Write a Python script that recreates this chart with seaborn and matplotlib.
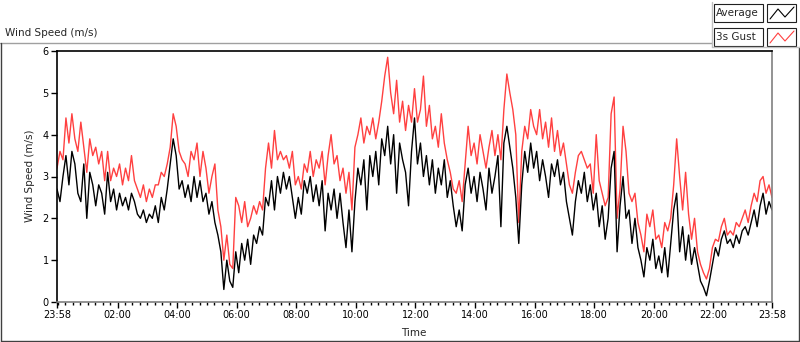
import numpy as np
import pandas as pd
import matplotlib
matplotlib.use('Agg')
import matplotlib.pyplot as plt
import matplotlib.dates as mdates
from matplotlib.lines import Line2D
from matplotlib.patches import Rectangle
import seaborn as sns

# ---- data (one sample every 6 minutes) ----
start_time = '2024-05-01 23:58'
step_minutes = 6
tick_labels = ['23:58', '02:00', '04:00', '06:00', '08:00', '10:00', '12:00',
               '14:00', '16:00', '18:00', '20:00', '22:00', '23:58']

avg = [2.7, 2.4, 3.0, 3.5, 2.8, 3.6, 3.3, 2.6, 2.4, 3.3,
       2.0, 3.1, 2.8, 2.3, 2.8, 2.6, 2.1, 3.1, 2.4, 2.7,
       2.2, 2.6, 2.3, 2.5, 2.2, 2.6, 2.4, 2.1, 2.0, 2.2,
       1.9, 2.1, 2.0, 2.3, 1.9, 2.5, 2.2, 2.7, 3.3, 3.9,
       3.5, 2.7, 2.9, 2.5, 2.8, 2.4, 3.0, 2.5, 2.9, 2.4,
       2.6, 2.1, 2.4, 1.9, 1.6, 1.2, 0.3, 1.0, 0.5, 0.35,
       1.2, 0.7, 1.4, 1.0, 1.5, 0.9, 1.6, 1.4, 1.8, 1.6,
       2.5, 2.3, 2.9, 2.2, 3.0, 2.6, 3.1, 2.7, 3.0, 2.5,
       2.0, 2.5, 2.1, 2.9, 2.6, 3.0, 2.4, 2.8, 2.3, 2.9,
       1.7, 2.6, 2.2, 2.7, 2.0, 2.6, 1.9, 1.3, 2.2, 1.2,
       2.4, 3.2, 2.8, 3.4, 2.2, 3.5, 3.0, 3.6, 2.8, 3.9,
       3.5, 4.2, 3.3, 4.0, 2.6, 3.8, 3.4, 3.1, 2.3, 3.6,
       4.4, 3.3, 3.8, 3.0, 3.5, 2.8, 3.4, 2.6, 3.2, 2.8,
       3.4, 2.5, 2.9, 2.3, 1.8, 2.2, 1.7, 2.8, 3.2, 2.6,
       3.0, 2.4, 3.1, 2.7, 2.2, 3.2, 2.6, 3.0, 3.5, 1.8,
       3.8, 4.2, 3.7, 3.2, 2.5, 1.4, 2.8, 3.6, 3.1, 3.8,
       3.2, 3.6, 2.9, 3.4, 3.0, 2.5, 3.3, 3.0, 3.4, 2.8,
       3.1, 2.4, 2.0, 1.6, 2.4, 2.9, 2.6, 3.1, 2.4, 2.8,
       2.2, 2.6, 1.8, 2.3, 1.5, 2.0, 3.2, 3.6, 1.2, 2.3,
       3.0, 2.0, 2.2, 1.4, 2.0, 1.3, 1.0, 0.6, 1.3, 1.0,
       1.5, 0.8, 1.1, 0.7, 1.3, 0.6, 1.4, 2.2, 2.6, 1.2,
       1.8, 1.0, 1.6, 0.9, 1.3, 0.9, 0.5, 0.35, 0.15, 0.5,
       0.9, 1.3, 1.1, 1.5, 1.7, 1.4, 1.5, 1.3, 1.6, 1.4,
       1.7, 1.8, 1.6, 1.9, 2.2, 1.8, 2.3, 2.6, 2.1, 2.4,
       2.2]

gust = [3.2, 3.6, 3.4, 4.4, 3.8, 4.5, 3.9, 3.6, 4.3, 3.7,
        3.1, 3.9, 3.5, 3.7, 3.3, 3.6, 2.9, 3.6, 2.9, 3.2,
        3.0, 3.3, 2.8, 3.2, 2.9, 3.5, 2.9, 2.7, 2.5, 2.8,
        2.4, 2.7, 2.5, 2.8, 2.8, 3.1, 3.0, 3.3, 3.7, 4.5,
        4.2, 3.6, 3.4, 3.3, 3.0, 3.6, 3.4, 3.8, 3.0, 3.6,
        3.2, 2.6, 3.0, 3.3, 2.2, 1.8, 1.0, 1.6, 0.9, 0.8,
        2.5, 2.3, 1.9, 2.4, 1.8, 2.0, 2.3, 2.1, 2.4, 2.2,
        3.2, 3.8, 3.2, 4.1, 3.4, 3.6, 3.4, 3.5, 3.2, 3.6,
        2.8, 3.0, 2.7, 3.3, 3.1, 3.6, 3.0, 3.4, 3.2, 3.6,
        2.8, 3.5, 4.0, 3.3, 3.5, 2.9, 3.2, 2.6, 3.1, 2.2,
        3.7, 4.0, 4.4, 3.8, 4.2, 4.0, 4.4, 3.9, 4.3, 4.8,
        5.4, 5.85, 5.0, 4.5, 5.3, 4.3, 4.8, 4.1, 4.7, 4.3,
        5.1, 4.3, 4.6, 5.4, 4.2, 4.7, 3.9, 4.2, 3.7, 4.5,
        3.8, 3.4, 3.1, 2.7, 2.6, 2.9, 2.4, 3.3, 4.2, 3.5,
        3.8, 3.3, 4.0, 3.6, 3.2, 3.7, 4.1, 3.5, 4.0, 3.4,
        4.6, 5.45, 5.0, 4.6, 4.0, 1.9, 3.6, 4.2, 3.9, 4.6,
        4.2, 4.0, 4.6, 3.9, 4.3, 3.7, 4.4, 3.6, 4.1, 3.5,
        3.8, 3.3, 2.8, 2.6, 3.1, 3.5, 3.6, 3.4, 3.2, 3.3,
        2.6, 4.0, 2.9, 2.6, 2.3, 2.5, 4.5, 4.9, 2.0, 2.7,
        4.2, 3.6, 2.6, 2.4, 2.6, 1.9, 1.6, 1.2, 2.1, 1.8,
        2.2, 1.5, 1.6, 1.3, 1.9, 1.7, 2.0, 2.8, 3.9, 3.0,
        2.2, 3.1, 2.1, 1.5, 2.0, 1.2, 0.9, 0.7, 0.55, 0.8,
        1.3, 1.5, 1.45, 1.8, 2.0, 1.6, 1.7, 1.6, 1.9, 1.8,
        2.0, 2.2, 1.9, 2.3, 2.6, 2.4, 2.9, 3.0, 2.6, 2.8,
        2.5]

# ---- style ----
sns.set_theme(style='white')
plt.rcParams['font.family'] = ['DejaVu Sans']

W, H = 800, 342
RED = '#ff4040'


def fx(x):
    return x / W


def fy(y):
    return 1 - y / H


times = pd.date_range(start_time, periods=len(avg), freq=f'{step_minutes}min')
df = pd.DataFrame({'Time': times, 'Average': avg, '3s Gust': gust})

fig = plt.figure(figsize=(W / 100, H / 100), dpi=100)
fig.patch.set_facecolor('white')
ax = fig.add_axes([fx(57), fy(302), fx(772) - fx(57), fy(51) - fy(302)])

sns.lineplot(data=df, x='Time', y='3s Gust', color=RED, lw=1.0, ax=ax)
sns.lineplot(data=df, x='Time', y='Average', color='black', lw=1.0, ax=ax)

ax.set_xlim(times[0], times[-1])
ax.set_ylim(0, 6)
ax.set_xlabel('')
ax.set_ylabel('')

# x ticks
day2 = times[0].normalize() + pd.Timedelta(days=1)
major = [times[0]] + [day2 + pd.Timedelta(hours=int(l[:2])) for l in tick_labels[1:-1]] + [times[-1]]
ax.set_xticks(major)
ax.set_xticklabels(tick_labels)
ax.xaxis.set_minor_locator(mdates.MinuteLocator(byminute=[0, 15, 30, 45]))
ax.set_yticks(range(0, 7))
ax.set_yticklabels([str(v) for v in range(0, 7)])

ax.tick_params(axis='both', which='major', direction='out', length=4, width=1,
               color='black', labelsize=7, labelcolor='black', pad=2,
               bottom=True, left=True)
ax.tick_params(axis='x', which='minor', direction='out', length=2.5, width=1,
               color='black', bottom=True)

for s in ['left', 'top']:
    ax.spines[s].set_color('black')
    ax.spines[s].set_linewidth(1.2)
for s in ['right', 'bottom']:
    ax.spines[s].set_color('#808080')
    ax.spines[s].set_linewidth(1.2)

# texts
fig.text(fx(5), fy(36), 'Wind Speed (m/s)', fontsize=7.5, ha='left', va='baseline')
fig.text(fx(30), fy(176), 'Wind Speed (m/s)', fontsize=7.5, rotation=90,
         ha='center', va='center')
fig.text(fx(414), fy(333), 'Time', fontsize=7.5, ha='center', va='center')

# frame lines
def fline(x0, y0, x1, y1, color, lw=1.0):
    fig.add_artist(Line2D([fx(x0), fx(x1)], [fy(y0), fy(y1)], color=color, lw=lw))

fline(0, 42.5, 712, 42.5, '#a0a0a0')
fline(0.5, 42.5, 0.5, 340.5, '#404040')
fline(0.5, 340.5, 799, 340.5, '#404040')
fline(798.5, 47, 798.5, 340.5, '#404040')
fline(712, 2, 712, 47, '#c0c0c0')
fline(712, 47, 799, 47, '#c0c0c0')

# legend
names = ['Average', '3s Gust']
colors = ['black', RED]
for k, (name, col) in enumerate(zip(names, colors)):
    top = 4 + k * 24
    fig.add_artist(Rectangle((fx(714), fy(top + 18)), fx(763) - fx(714), fy(top) - fy(top + 18),
                             fill=True, facecolor='white', edgecolor='#202020', lw=0.8))
    fig.text(fx(716), fy(top + 9), name, fontsize=7.5, ha='left', va='center')
    fig.add_artist(Rectangle((fx(767), fy(top + 18)), fx(796) - fx(767), fy(top) - fy(top + 18),
                             fill=True, facecolor='white', edgecolor='#202020', lw=0.8))
    xs = [770, 778, 785, 794]
    ys = [top + 15, top + 5, top + 13, top + 3]
    fig.add_artist(Line2D([fx(v) for v in xs], [fy(v) for v in ys], color=col, lw=0.8))

fig.savefig('out.png', dpi=100)
